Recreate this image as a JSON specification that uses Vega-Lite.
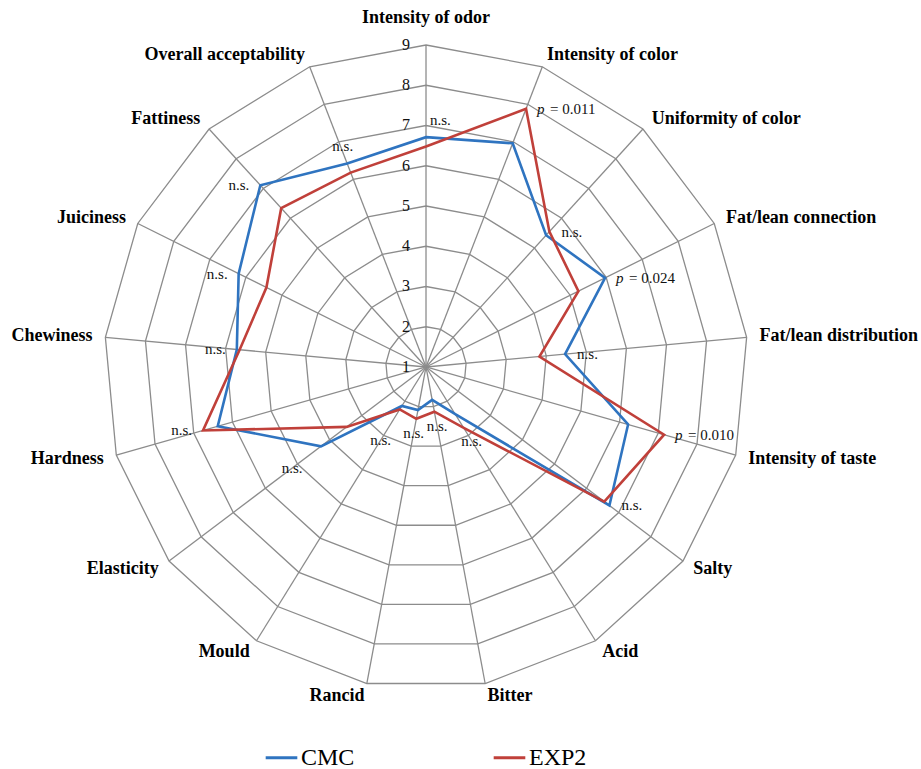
{
  "$schema": "https://vega.github.io/schema/vega-lite/v6.json",
  "width": 921,
  "height": 769,
  "padding": 0,
  "autosize": {"type": "none"},
  "background": "white",
  "config": {"view": {"stroke": null}, "font": "Liberation Serif"},
  "datasets": {
    "sensory": [
      {"idx": 0, "attribute": "Intensity of odor", "CMC": 6.71, "EXP2": 6.48, "p": null},
      {"idx": 1, "attribute": "Intensity of color", "CMC": 6.96, "EXP2": 7.88, "p": "0.011"},
      {"idx": 2, "attribute": "Uniformity of color", "CMC": 5.43, "EXP2": 5.55, "p": null},
      {"idx": 3, "attribute": "Fat/lean connection", "CMC": 5.97, "EXP2": 5.23, "p": "0.024"},
      {"idx": 4, "attribute": "Fat/lean distribution", "CMC": 4.47, "EXP2": 3.83, "p": null},
      {"idx": 5, "attribute": "Intensity of taste", "CMC": 6.22, "EXP2": 7.15, "p": "0.010"},
      {"idx": 6, "attribute": "Salty", "CMC": 6.71, "EXP2": 6.55, "p": null},
      {"idx": 7, "attribute": "Acid", "CMC": 2.38, "EXP2": 2.78, "p": null},
      {"idx": 8, "attribute": "Bitter", "CMC": 1.83, "EXP2": 2.13, "p": null},
      {"idx": 9, "attribute": "Rancid", "CMC": 2.09, "EXP2": 2.31, "p": null},
      {"idx": 10, "attribute": "Mould", "CMC": 2.14, "EXP2": 2.24, "p": null},
      {"idx": 11, "attribute": "Elasticity", "CMC": 4.27, "EXP2": 3.47, "p": null},
      {"idx": 12, "attribute": "Hardness", "CMC": 6.38, "EXP2": 6.76, "p": null},
      {"idx": 13, "attribute": "Chewiness", "CMC": 5.72, "EXP2": 5.65, "p": null},
      {"idx": 14, "attribute": "Juiciness", "CMC": 6.2, "EXP2": 5.43, "p": null},
      {"idx": 15, "attribute": "Fattiness", "CMC": 7.11, "EXP2": 6.34, "p": null},
      {"idx": 16, "attribute": "Overall acceptability", "CMC": 6.42, "EXP2": 6.18, "p": null}
    ],
    "grid": [
      {"idx": 0, "levels": [2, 3, 4, 5, 6, 7, 8, 9]},
      {"idx": 1, "levels": [2, 3, 4, 5, 6, 7, 8, 9]},
      {"idx": 2, "levels": [2, 3, 4, 5, 6, 7, 8, 9]},
      {"idx": 3, "levels": [2, 3, 4, 5, 6, 7, 8, 9]},
      {"idx": 4, "levels": [2, 3, 4, 5, 6, 7, 8, 9]},
      {"idx": 5, "levels": [2, 3, 4, 5, 6, 7, 8, 9]},
      {"idx": 6, "levels": [2, 3, 4, 5, 6, 7, 8, 9]},
      {"idx": 7, "levels": [2, 3, 4, 5, 6, 7, 8, 9]},
      {"idx": 8, "levels": [2, 3, 4, 5, 6, 7, 8, 9]},
      {"idx": 9, "levels": [2, 3, 4, 5, 6, 7, 8, 9]},
      {"idx": 10, "levels": [2, 3, 4, 5, 6, 7, 8, 9]},
      {"idx": 11, "levels": [2, 3, 4, 5, 6, 7, 8, 9]},
      {"idx": 12, "levels": [2, 3, 4, 5, 6, 7, 8, 9]},
      {"idx": 13, "levels": [2, 3, 4, 5, 6, 7, 8, 9]},
      {"idx": 14, "levels": [2, 3, 4, 5, 6, 7, 8, 9]},
      {"idx": 15, "levels": [2, 3, 4, 5, 6, 7, 8, 9]},
      {"idx": 16, "levels": [2, 3, 4, 5, 6, 7, 8, 9]}
    ],
    "ticks": [
      {"level": 1}, {"level": 2}, {"level": 3}, {"level": 4}, {"level": 5},
      {"level": 6}, {"level": 7}, {"level": 8}, {"level": 9}
    ]
  },
  "layer": [
    {
      "data": {"name": "grid"},
      "transform": [
        {"flatten": ["levels"], "as": ["level"]},
        {"calculate": "datum.idx * 2 * PI / 17", "as": "a"},
        {"calculate": "(datum.level - 1) * sin(datum.a)", "as": "px"},
        {"calculate": "(datum.level - 1) * cos(datum.a)", "as": "py"}
      ],
      "mark": {"type": "line", "interpolate": "linear-closed", "stroke": "#8c8c8c", "strokeWidth": 1.3},
      "encoding": {
        "x": {"field": "px", "type": "quantitative", "scale": {"domain": [-10.584, 12.298], "nice": false, "zero": false}, "axis": null},
        "y": {"field": "py", "type": "quantitative", "scale": {"domain": [-9.988, 9.118], "nice": false, "zero": false}, "axis": null},
        "detail": {"field": "level", "type": "ordinal"},
        "order": {"field": "idx", "type": "quantitative"}
      }
    },
    {
      "data": {"name": "sensory"},
      "transform": [
        {"calculate": "datum.idx * 2 * PI / 17", "as": "a"},
        {"calculate": "8 * sin(datum.a)", "as": "px"},
        {"calculate": "8 * cos(datum.a)", "as": "py"}
      ],
      "mark": {"type": "rule", "stroke": "#8c8c8c", "strokeWidth": 1.3},
      "encoding": {
        "x": {"field": "px", "type": "quantitative"},
        "y": {"field": "py", "type": "quantitative"},
        "x2": {"datum": 0},
        "y2": {"datum": 0}
      }
    },
    {
      "data": {"name": "ticks"},
      "transform": [
        {"calculate": "0", "as": "px"},
        {"calculate": "datum.level - 1", "as": "py"}
      ],
      "mark": {"type": "text", "align": "right", "baseline": "middle", "dx": -16, "font": "Liberation Serif", "fontSize": 16, "color": "#111"},
      "encoding": {
        "x": {"field": "px", "type": "quantitative"},
        "y": {"field": "py", "type": "quantitative"},
        "text": {"field": "level", "type": "quantitative", "format": "d"}
      }
    },
    {
      "data": {"name": "sensory"},
      "transform": [
        {"fold": ["CMC", "EXP2"], "as": ["series", "value"]},
        {"calculate": "datum.idx * 2 * PI / 17", "as": "a"},
        {"calculate": "(datum.value - 1) * sin(datum.a)", "as": "px"},
        {"calculate": "(datum.value - 1) * cos(datum.a)", "as": "py"}
      ],
      "mark": {"type": "line", "interpolate": "linear-closed", "strokeWidth": 2.6},
      "encoding": {
        "x": {"field": "px", "type": "quantitative"},
        "y": {"field": "py", "type": "quantitative"},
        "order": {"field": "idx", "type": "quantitative"},
        "color": {
          "field": "series", "type": "nominal",
          "scale": {"domain": ["CMC", "EXP2"], "range": ["#2f74c0", "#c0403a"]},
          "legend": {
            "title": null, "orient": "none", "legendX": 264, "legendY": 740,
            "direction": "horizontal", "symbolType": "stroke", "symbolStrokeWidth": 3,
            "symbolSize": 1000, "labelFont": "Liberation Serif", "labelFontSize": 24,
            "labelColor": "#000", "columnPadding": 132, "labelOffset": 2, "padding": 0
          }
        }
      }
    },
    {
      "data": {"name": "sensory"},
      "transform": [
        {"filter": "datum.idx == 0"},
        {"calculate": "datum.idx * 2 * PI / 17", "as": "a"},
        {"calculate": "8.67 * sin(datum.a)", "as": "px"},
        {"calculate": "8.67 * cos(datum.a)", "as": "py"}
      ],
      "mark": {"type": "text", "align": "center", "baseline": "middle", "font": "Liberation Serif", "fontWeight": "bold", "fontSize": 18, "color": "#000"},
      "encoding": {
        "x": {"field": "px", "type": "quantitative"},
        "y": {"field": "py", "type": "quantitative"},
        "text": {"field": "attribute", "type": "nominal"}
      }
    },
    {
      "data": {"name": "sensory"},
      "transform": [
        {"filter": "datum.idx >= 1 && datum.idx <= 8"},
        {"calculate": "datum.idx * 2 * PI / 17", "as": "a"},
        {"calculate": "8.323 * sin(datum.a)", "as": "px"},
        {"calculate": "8.323 * cos(datum.a)", "as": "py"}
      ],
      "mark": {"type": "text", "align": "left", "baseline": "middle", "font": "Liberation Serif", "fontWeight": "bold", "fontSize": 18, "color": "#000"},
      "encoding": {
        "x": {"field": "px", "type": "quantitative"},
        "y": {"field": "py", "type": "quantitative"},
        "text": {"field": "attribute", "type": "nominal"}
      }
    },
    {
      "data": {"name": "sensory"},
      "transform": [
        {"filter": "datum.idx >= 9"},
        {"calculate": "datum.idx * 2 * PI / 17", "as": "a"},
        {"calculate": "8.323 * sin(datum.a)", "as": "px"},
        {"calculate": "8.323 * cos(datum.a)", "as": "py"}
      ],
      "mark": {"type": "text", "align": "right", "baseline": "middle", "font": "Liberation Serif", "fontWeight": "bold", "fontSize": 18, "color": "#000"},
      "encoding": {
        "x": {"field": "px", "type": "quantitative"},
        "y": {"field": "py", "type": "quantitative"},
        "text": {"field": "attribute", "type": "nominal"}
      }
    },
    {
      "data": {"name": "sensory"},
      "transform": [
        {"filter": "datum.idx == 0"},
        {"calculate": "datum.idx * 2 * PI / 17", "as": "a"},
        {"calculate": "max(datum.CMC, datum.EXP2) - 1", "as": "r"},
        {"calculate": "datum.r * sin(datum.a)", "as": "px"},
        {"calculate": "datum.r * cos(datum.a)", "as": "py"}
      ],
      "mark": {"type": "text", "align": "left", "baseline": "middle", "dx": 4, "dy": -17, "font": "Liberation Serif", "fontSize": 15, "color": "#111"},
      "encoding": {
        "x": {"field": "px", "type": "quantitative"},
        "y": {"field": "py", "type": "quantitative"},
        "text": {"value": "n.s."}
      }
    },
    {
      "data": {"name": "sensory"},
      "transform": [
        {"filter": "datum.idx == 16"},
        {"calculate": "datum.idx * 2 * PI / 17", "as": "a"},
        {"calculate": "max(datum.CMC, datum.EXP2) - 1", "as": "r"},
        {"calculate": "datum.r * sin(datum.a)", "as": "px"},
        {"calculate": "datum.r * cos(datum.a)", "as": "py"}
      ],
      "mark": {"type": "text", "align": "right", "baseline": "middle", "dx": 6, "dy": -18, "font": "Liberation Serif", "fontSize": 15, "color": "#111"},
      "encoding": {
        "x": {"field": "px", "type": "quantitative"},
        "y": {"field": "py", "type": "quantitative"},
        "text": {"value": "n.s."}
      }
    },
    {
      "data": {"name": "sensory"},
      "transform": [
        {"filter": "datum.idx >= 1 && datum.idx <= 6 && !isValid(datum.p)"},
        {"calculate": "datum.idx * 2 * PI / 17", "as": "a"},
        {"calculate": "max(datum.CMC, datum.EXP2) - 1", "as": "r"},
        {"calculate": "datum.r * sin(datum.a)", "as": "px"},
        {"calculate": "datum.r * cos(datum.a)", "as": "py"}
      ],
      "mark": {"type": "text", "align": "left", "baseline": "middle", "dx": 12, "font": "Liberation Serif", "fontSize": 15, "color": "#111"},
      "encoding": {
        "x": {"field": "px", "type": "quantitative"},
        "y": {"field": "py", "type": "quantitative"},
        "text": {"value": "n.s."}
      }
    },
    {
      "data": {"name": "sensory"},
      "transform": [
        {"filter": "isValid(datum.p)"},
        {"calculate": "datum.idx * 2 * PI / 17", "as": "a"},
        {"calculate": "max(datum.CMC, datum.EXP2) - 1", "as": "r"},
        {"calculate": "datum.r * sin(datum.a)", "as": "px"},
        {"calculate": "datum.r * cos(datum.a)", "as": "py"}
      ],
      "mark": {"type": "text", "align": "left", "baseline": "middle", "dx": 11, "font": "Liberation Serif", "fontStyle": "italic", "fontSize": 15, "color": "#111"},
      "encoding": {
        "x": {"field": "px", "type": "quantitative"},
        "y": {"field": "py", "type": "quantitative"},
        "text": {"value": "p"}
      }
    },
    {
      "data": {"name": "sensory"},
      "transform": [
        {"filter": "isValid(datum.p)"},
        {"calculate": "datum.idx * 2 * PI / 17", "as": "a"},
        {"calculate": "max(datum.CMC, datum.EXP2) - 1", "as": "r"},
        {"calculate": "datum.r * sin(datum.a)", "as": "px"},
        {"calculate": "datum.r * cos(datum.a)", "as": "py"},
        {"calculate": "'= ' + datum.p", "as": "ptext"}
      ],
      "mark": {"type": "text", "align": "left", "baseline": "middle", "dx": 24, "font": "Liberation Serif", "fontSize": 15, "color": "#111"},
      "encoding": {
        "x": {"field": "px", "type": "quantitative"},
        "y": {"field": "py", "type": "quantitative"},
        "text": {"field": "ptext", "type": "nominal"}
      }
    },
    {
      "data": {"name": "sensory"},
      "transform": [
        {"filter": "datum.idx >= 7 && datum.idx <= 9"},
        {"calculate": "datum.idx * 2 * PI / 17", "as": "a"},
        {"calculate": "max(datum.CMC, datum.EXP2) - 1 + 0.37", "as": "r"},
        {"calculate": "datum.r * sin(datum.a)", "as": "px"},
        {"calculate": "datum.r * cos(datum.a)", "as": "py"}
      ],
      "mark": {"type": "text", "align": "center", "baseline": "middle", "font": "Liberation Serif", "fontSize": 15, "color": "#111"},
      "encoding": {
        "x": {"field": "px", "type": "quantitative"},
        "y": {"field": "py", "type": "quantitative"},
        "text": {"value": "n.s."}
      }
    },
    {
      "data": {"name": "sensory"},
      "transform": [
        {"filter": "datum.idx >= 10 && datum.idx <= 11"},
        {"calculate": "datum.idx * 2 * PI / 17", "as": "a"},
        {"calculate": "max(datum.CMC, datum.EXP2) - 1 + 0.9", "as": "r"},
        {"calculate": "datum.r * sin(datum.a)", "as": "px"},
        {"calculate": "datum.r * cos(datum.a)", "as": "py"}
      ],
      "mark": {"type": "text", "align": "center", "baseline": "middle", "font": "Liberation Serif", "fontSize": 15, "color": "#111"},
      "encoding": {
        "x": {"field": "px", "type": "quantitative"},
        "y": {"field": "py", "type": "quantitative"},
        "text": {"value": "n.s."}
      }
    },
    {
      "data": {"name": "sensory"},
      "transform": [
        {"filter": "datum.idx >= 12 && datum.idx <= 15"},
        {"calculate": "datum.idx * 2 * PI / 17", "as": "a"},
        {"calculate": "max(datum.CMC, datum.EXP2) - 1", "as": "r"},
        {"calculate": "datum.r * sin(datum.a)", "as": "px"},
        {"calculate": "datum.r * cos(datum.a)", "as": "py"}
      ],
      "mark": {"type": "text", "align": "right", "baseline": "middle", "dx": -11, "font": "Liberation Serif", "fontSize": 15, "color": "#111"},
      "encoding": {
        "x": {"field": "px", "type": "quantitative"},
        "y": {"field": "py", "type": "quantitative"},
        "text": {"value": "n.s."}
      }
    }
  ]
}
